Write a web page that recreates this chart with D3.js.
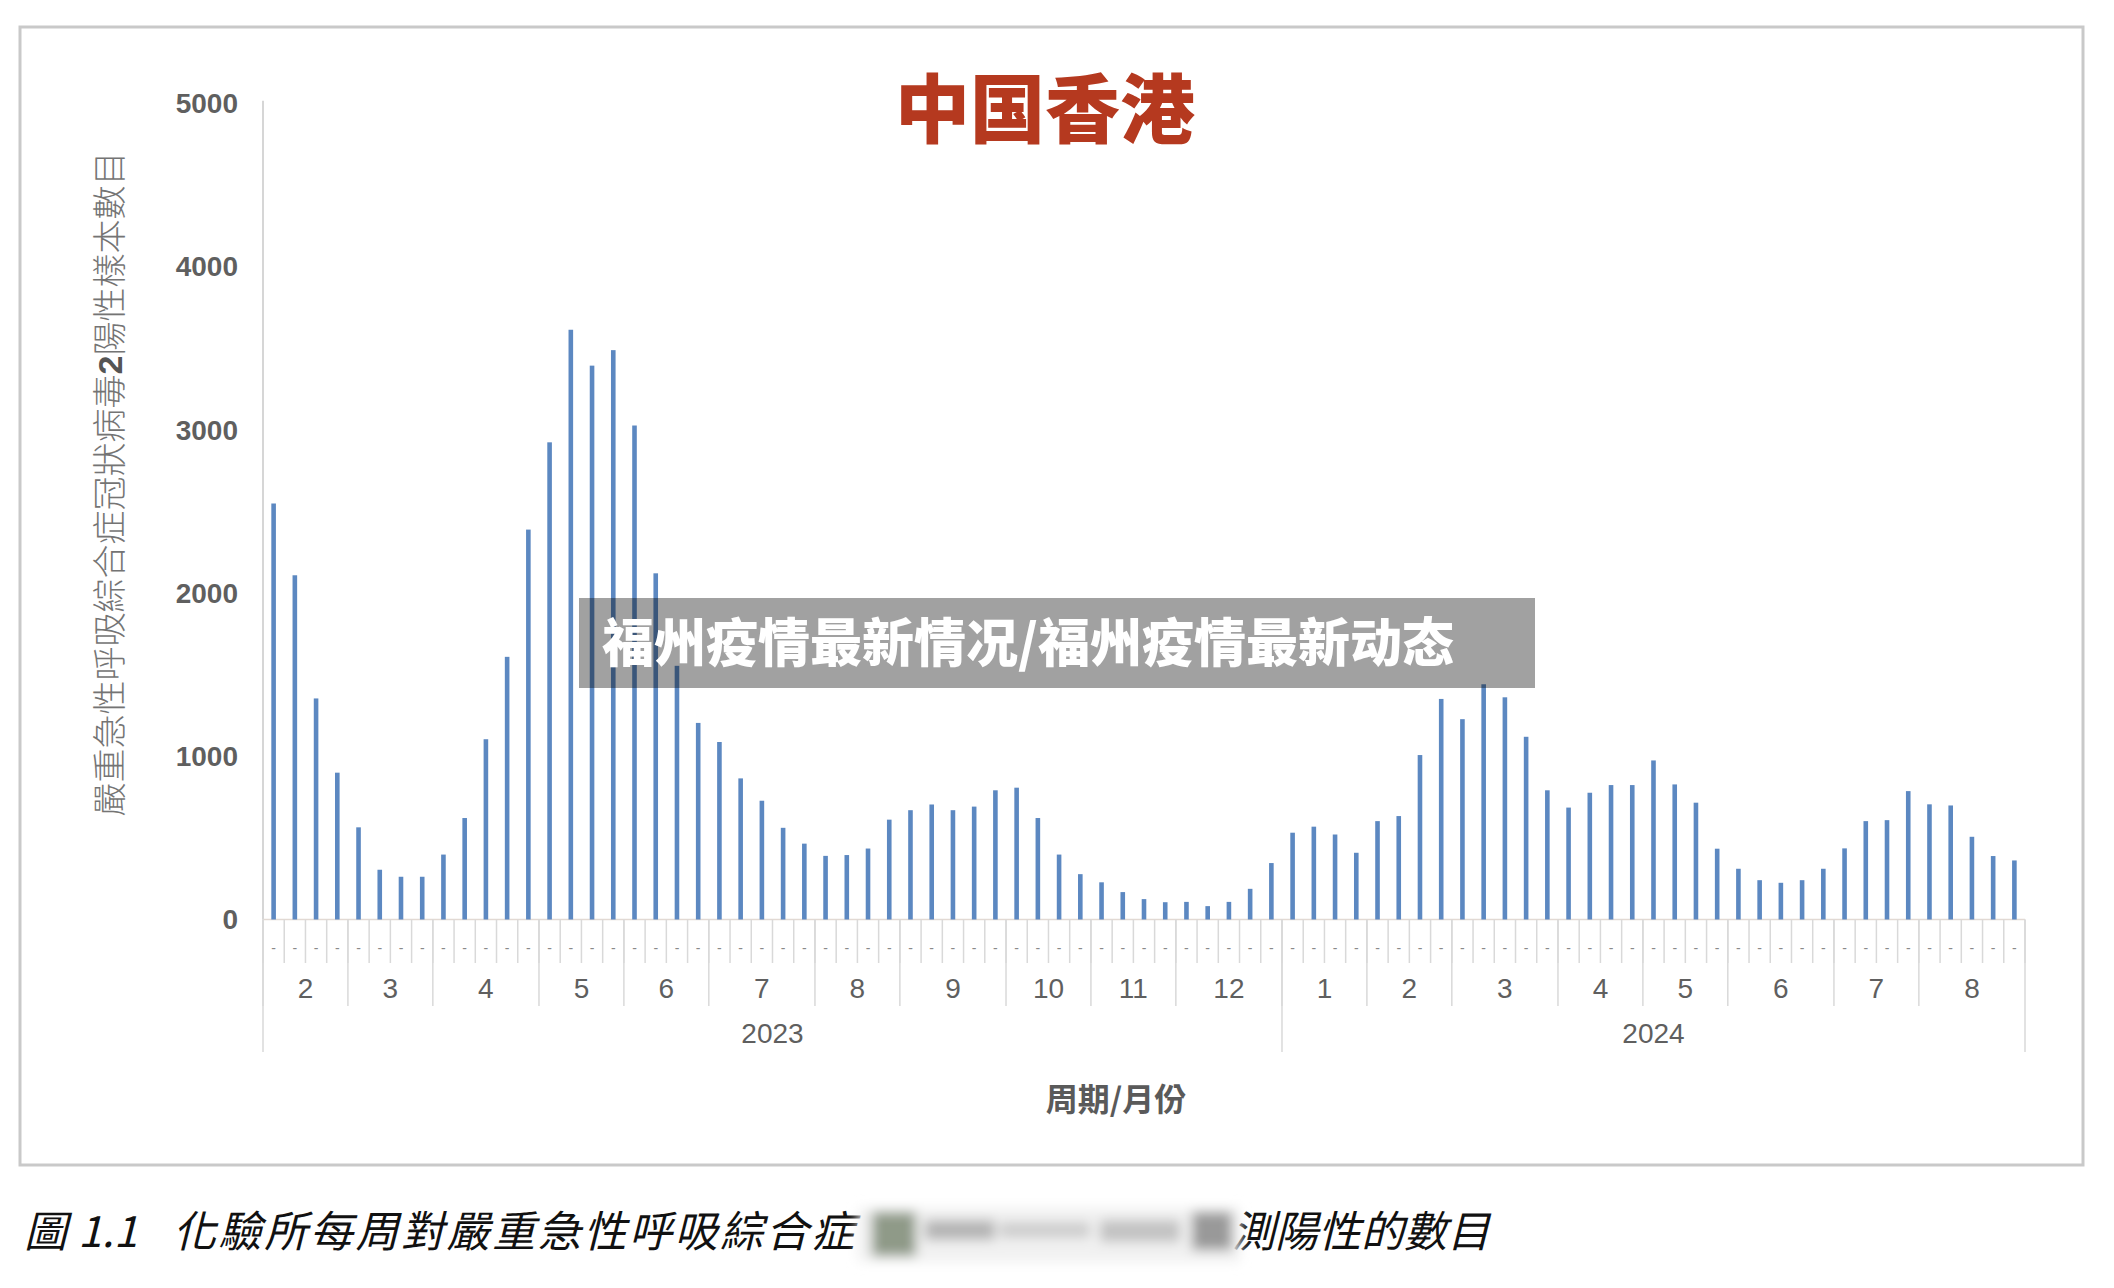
<!DOCTYPE html>
<html>
<head>
<meta charset="utf-8">
<script src="https://cdn.jsdelivr.net/npm/d3@7/dist/d3.min.js"></script>
<style>
  html, body { margin: 0; padding: 0; background: #ffffff; }
  svg { display: block; }
</style>
</head>
<body>
<svg id="chart" width="2114" height="1288"></svg>
<script>
// ---------------- DATA ----------------
const titleText = "中国香港";
const overlayText = "福州疫情最新情况/福州疫情最新动态";
const yAxisTitleA = "嚴重急性呼吸綜合症冠狀病毒";
const yAxisTitleB = "2";
const yAxisTitleC = "陽性樣本數目";
const xAxisTitle = "周期/月份";
const captionFig = "圖";
const captionNum = "1.1";
const captionA = "化驗所每周對嚴重急性呼吸綜合症";
const captionB = "測陽性的數目";

const years = ["2023", "2024"];
const months2023 = ["2", "3", "4", "5", "6", "7", "8", "9", "10", "11", "12"];
const weeks2023  = [4, 4, 5, 4, 4, 5, 4, 5, 4, 4, 5];
const months2024 = ["1", "2", "3", "4", "5", "6", "7", "8"];
const weeks2024  = [4, 4, 5, 4, 4, 5, 4, 5];

const values2023 = [
  2550, 2110, 1355, 900,          // 2
  565, 305, 262, 262,             // 3
  398, 622, 1105, 1610, 2390,     // 4
  2925, 3615, 3395, 3490,         // 5
  3028, 2122, 1555, 1205,         // 6
  1088, 865, 728, 562, 465,       // 7
  390, 395, 435, 612,             // 8
  670, 705, 670, 692, 792,        // 9
  808, 622, 398, 278,             // 10
  228, 168, 125, 106,             // 11
  108, 82, 108, 188, 346          // 12
];
const values2024 = [
  532, 569, 521, 409,             // 1
  603, 634, 1008, 1352,           // 2
  1228, 1442, 1362, 1120, 792,    // 3
  686, 777, 824, 824,             // 4
  975, 828, 716, 434,             // 5
  311, 241, 225, 241, 311,        // 6
  436, 603, 609, 787,             // 7
  706, 699, 507, 389, 362         // 8
];
const yTicks = [0, 1000, 2000, 3000, 4000, 5000];
const weekLabel = "-";

// ---------------- BUILD ----------------
const values = values2023.concat(values2024);
const yearGroups = [
  { year: years[0], months: months2023, weeks: weeks2023 },
  { year: years[1], months: months2024, weeks: weeks2024 }
];
const monthSpans = [];
const yearSpans = [];
let idx = 0;
yearGroups.forEach(g => {
  const ys = idx;
  g.months.forEach((m, k) => {
    monthSpans.push({ label: m, start: idx, end: idx + g.weeks[k] });
    idx += g.weeks[k];
  });
  yearSpans.push({ label: g.year, start: ys, end: idx });
});
const n = values.length;

const svg = d3.select("#chart");
const left = 263, right = 2025, base = 919.5, top5000 = 103.8;

const x = d3.scaleBand().domain(d3.range(n)).range([left, right]).padding(0);
const y = d3.scaleLinear().domain([0, 5000]).range([base, top5000]);
const bw = x.bandwidth();
const edge = i => (i >= n ? right : x(i));

// outer frame
svg.append("rect")
  .attr("x", 20).attr("y", 27).attr("width", 2063).attr("height", 1138)
  .attr("fill", "#ffffff").attr("stroke", "#c9c9c9").attr("stroke-width", 3);

// title
svg.append("text")
  .attr("x", 1045).attr("y", 137)
  .attr("text-anchor", "middle")
  .attr("font-family", "'Noto Sans CJK SC', sans-serif")
  .attr("font-weight", 900)
  .attr("font-size", 75)
  .attr("fill", "#b5391f")
  .text(titleText);

// y axis
const yAxis = d3.axisLeft(y).tickValues(yTicks).tickSize(0).tickPadding(0).tickFormat(d3.format("d"));
const gy = svg.append("g").attr("transform", `translate(238,0)`).call(yAxis);
gy.select(".domain").remove();
gy.selectAll("text")
  .attr("font-family", "'Liberation Sans', Arial, sans-serif")
  .attr("font-weight", "bold")
  .attr("font-size", 28)
  .attr("fill", "#5f5f5f");

svg.append("line")
  .attr("x1", left).attr("x2", left)
  .attr("y1", top5000 - 3).attr("y2", base)
  .attr("stroke", "#d6d6d6").attr("stroke-width", 2);

// y axis title
const yt = svg.append("text")
  .attr("transform", "translate(122,484) rotate(-90)")
  .attr("text-anchor", "middle")
  .attr("font-family", "'Noto Sans CJK TC', sans-serif")
  .attr("font-weight", 300)
  .attr("font-size", 34)
  .attr("fill", "#747474");
yt.append("tspan").text(yAxisTitleA);
yt.append("tspan").attr("font-weight", "bold").attr("font-family", "'Liberation Sans', Arial, sans-serif").attr("fill", "#555").text(yAxisTitleB);
yt.append("tspan").text(yAxisTitleC);

// x axis: baseline
svg.append("line")
  .attr("x1", left).attr("x2", right)
  .attr("y1", base).attr("y2", base)
  .attr("stroke", "#e2d9d3").attr("stroke-width", 1.5);

// week ticks
svg.append("g").selectAll("line")
  .data(d3.range(n + 1))
  .join("line")
  .attr("x1", d => edge(d)).attr("x2", d => edge(d))
  .attr("y1", base).attr("y2", 963)
  .attr("stroke", "#d9d9d9").attr("stroke-width", 1.5);

// week labels (dashes)
svg.append("g").selectAll("text")
  .data(d3.range(n))
  .join("text")
  .attr("x", d => x(d) + bw / 2)
  .attr("y", 953)
  .attr("text-anchor", "middle")
  .attr("font-family", "'Liberation Sans', Arial, sans-serif")
  .attr("font-size", 14)
  .attr("fill", "#8a8a8a")
  .text(weekLabel);

// month separators
svg.append("g").selectAll("line")
  .data(monthSpans)
  .join("line")
  .attr("x1", d => edge(d.start)).attr("x2", d => edge(d.start))
  .attr("y1", base).attr("y2", 1006)
  .attr("stroke", "#d9d9d9").attr("stroke-width", 1.5);

// month labels
svg.append("g").selectAll("text")
  .data(monthSpans)
  .join("text")
  .attr("x", d => (edge(d.start) + edge(d.end)) / 2)
  .attr("y", 998)
  .attr("text-anchor", "middle")
  .attr("font-family", "'Liberation Sans', Arial, sans-serif")
  .attr("font-size", 28)
  .attr("fill", "#5f5f5f")
  .text(d => d.label);

// year separators
const yearEdges = yearSpans.map(d => d.start).concat([n]);
svg.append("g").selectAll("line")
  .data(yearEdges)
  .join("line")
  .attr("x1", d => edge(d)).attr("x2", d => edge(d))
  .attr("y1", base).attr("y2", 1052)
  .attr("stroke", "#d9d9d9").attr("stroke-width", 1.5);

// year labels
svg.append("g").selectAll("text")
  .data(yearSpans)
  .join("text")
  .attr("x", d => (edge(d.start) + edge(d.end)) / 2)
  .attr("y", 1043)
  .attr("text-anchor", "middle")
  .attr("font-family", "'Liberation Sans', Arial, sans-serif")
  .attr("font-size", 28)
  .attr("fill", "#5f5f5f")
  .text(d => d.label);

// bars
svg.append("g").selectAll("rect")
  .data(values)
  .join("rect")
  .attr("x", (d, i) => x(i) + bw / 2 - 2.3)
  .attr("width", 4.6)
  .attr("y", d => y(d))
  .attr("height", d => y(0) - y(d))
  .attr("fill", "#5c88c1");

// x axis title
svg.append("text")
  .attr("x", 1116).attr("y", 1111)
  .attr("text-anchor", "middle")
  .attr("font-family", "'Noto Sans CJK TC', sans-serif")
  .attr("font-weight", "bold")
  .attr("font-size", 32)
  .attr("fill", "#5a5a5a")
  .text(xAxisTitle);

// overlay banner
svg.append("rect")
  .attr("x", 579).attr("y", 598).attr("width", 956).attr("height", 90)
  .attr("fill", "#000000").attr("fill-opacity", 0.37);
svg.append("text")
  .attr("x", 602).attr("y", 662)
  .attr("font-family", "'Noto Sans CJK SC', sans-serif")
  .attr("font-weight", 900)
  .attr("font-size", 52)
  .attr("fill", "#ffffff")
  .text(overlayText);

// caption
const defs = svg.append("defs");
defs.append("filter").attr("id", "blur").attr("x", "-20%").attr("y", "-50%").attr("width", "140%").attr("height", "200%")
  .append("feGaussianBlur").attr("stdDeviation", 6);

const capStyle = sel => sel
  .attr("font-family", "'Noto Sans CJK TC', sans-serif")
  .attr("font-style", "italic")
  .attr("font-weight", 400)
  .attr("font-size", 43)
  .attr("fill", "#111111");

svg.append("text").attr("x", 24).attr("y", 1247).call(capStyle).text(captionFig);
svg.append("text").attr("x", 78).attr("y", 1247).call(capStyle).text(captionNum);
svg.append("text").attr("x", 173).attr("y", 1247).call(capStyle)
  .attr("letter-spacing", 2.6).text(captionA);
svg.append("text").attr("x", 1232).attr("y", 1247).call(capStyle).text(captionB);

const blurG = svg.append("g").attr("filter", "url(#blur)");
blurG.append("rect").attr("x", 858).attr("y", 1208).attr("width", 382).attr("height", 54).attr("fill", "#f1f1f1");
blurG.append("rect").attr("x", 872).attr("y", 1212).attr("width", 44).attr("height", 44).attr("fill", "#8f9a88");
blurG.append("rect").attr("x", 925).attr("y", 1220).attr("width", 70).attr("height", 20).attr("fill", "#b4b4b4");
blurG.append("rect").attr("x", 1000).attr("y", 1222).attr("width", 90).attr("height", 16).attr("fill", "#cdcdcd");
blurG.append("rect").attr("x", 1100).attr("y", 1220).attr("width", 80).attr("height", 22).attr("fill", "#c2c2c2");
blurG.append("rect").attr("x", 1192).attr("y", 1212).attr("width", 40).attr("height", 38).attr("fill", "#999999");
</script>
</body>
</html>
